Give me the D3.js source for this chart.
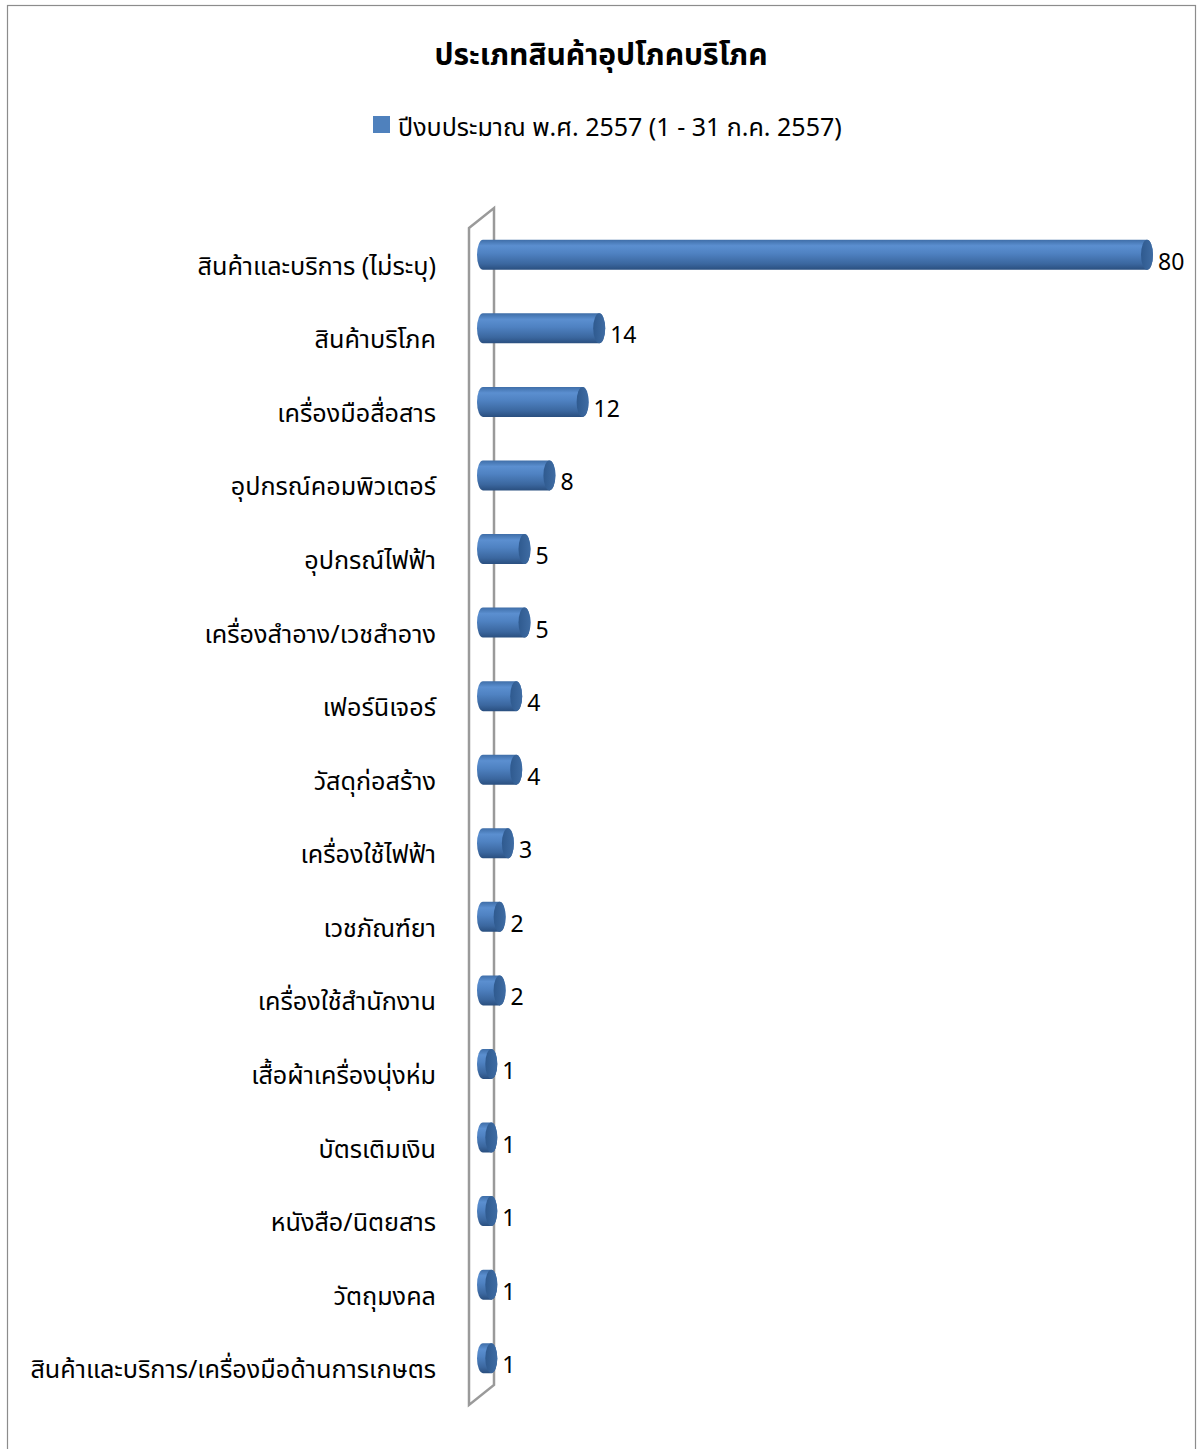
<!DOCTYPE html>
<html><head><meta charset="utf-8">
<script src="https://cdn.jsdelivr.net/npm/d3@7"></script>
<style>body{margin:0;background:#fff}</style>
</head><body>
<svg id="c" width="1198" height="1449"></svg>
<script>
const categories = ["สินค้าและบริการ (ไม่ระบุ)","สินค้าบริโภค","เครื่องมือสื่อสาร","อุปกรณ์คอมพิวเตอร์","อุปกรณ์ไฟฟ้า","เครื่องสำอาง/เวชสำอาง","เฟอร์นิเจอร์","วัสดุก่อสร้าง","เครื่องใช้ไฟฟ้า","เวชภัณฑ์ยา","เครื่องใช้สำนักงาน","เสื้อผ้าเครื่องนุ่งห่ม","บัตรเติมเงิน","หนังสือ/นิตยสาร","วัตถุมงคล","สินค้าและบริการ/เครื่องมือด้านการเกษตร"];
const values = [80,14,12,8,5,5,4,4,3,2,2,1,1,1,1,1];
const seriesName = "ปีงบประมาณ พ.ศ. 2557 (1 - 31 ก.ค. 2557)";
const title = "ประเภทสินค้าอุปโภคบริโภค";

const svg = d3.select("#c");
const font = "'Noto Sans', 'Noto Sans Thai', Tahoma, sans-serif";
// outer frame
svg.append("rect").attr("x",7.5).attr("y",5.5).attr("width",1188).attr("height",1460)
  .attr("fill","none").attr("stroke","#8c8c8c").attr("stroke-width",1.2);

svg.append("text").attr("x",601).attr("y",65).attr("text-anchor","middle")
  .attr("font-family",font).attr("font-weight","bold").attr("font-size",30).attr("fill","#000").text(title);
svg.append("rect").attr("x",373).attr("y",116).attr("width",17).attr("height",17).attr("fill","#4F81BD");
svg.append("text").attr("x",398).attr("y",136).attr("font-family",font).attr("font-size",25).attr("fill","#000").text(seriesName);

const x = d3.scaleLinear().domain([0,80]).range([483,1147]);
const y = d3.scaleBand().domain(categories).range([218,1395]).paddingInner(0.6).paddingOuter(0.3);

// back wall (3D panel)
const wall = svg.append("g");
wall.append("path").attr("d","M469,228 L494,208 L494,1385 L469,1405 Z")
  .attr("fill","none").attr("stroke","#9a9a9a").attr("stroke-width",2.5).attr("stroke-linejoin","miter");

const defs = svg.append("defs");
const g1 = defs.append("linearGradient").attr("id","cyl").attr("x1",0).attr("y1",0).attr("x2",0).attr("y2",1);
[[0,"#3f6ea8"],[0.2,"#5b8fd0"],[0.45,"#4f82c2"],[0.8,"#3b679f"],[1,"#2a4f7f"]].forEach(s=>g1.append("stop").attr("offset",s[0]).attr("stop-color",s[1]));
const g2 = defs.append("linearGradient").attr("id","cap").attr("x1",0).attr("y1",0).attr("x2",1).attr("y2",0);
[[0,"#2f5a8f"],[1,"#3f6ca3"]].forEach(s=>g2.append("stop").attr("offset",s[0]).attr("stop-color",s[1]));

const rx = 6;
const bars = svg.append("g").selectAll("g").data(categories).join("g");
bars.each(function(c,i){
  const g = d3.select(this);
  const cy = y(c) + y.bandwidth()/2;
  const h = 30, ry = h/2;
  const x0 = x(0), x1 = x(values[i]);
  g.append("path")
    .attr("d",`M${x0},${cy-ry} L${x1},${cy-ry} A${rx},${ry} 0 0 1 ${x1},${cy+ry} L${x0},${cy+ry} A${rx},${ry} 0 0 1 ${x0},${cy-ry} Z`)
    .attr("fill","url(#cyl)");
  g.append("ellipse").attr("cx",x1).attr("cy",cy).attr("rx",rx).attr("ry",ry).attr("fill","url(#cap)");
  g.append("text").attr("x",x1+rx+5).attr("y",cy+15).attr("font-family",font).attr("font-size",23).attr("fill","#000").text(values[i]);
  g.append("text").attr("x",436).attr("y",cy+20).attr("text-anchor","end").attr("font-family",font).attr("font-size",25.2).attr("fill","#000").text(c);
});
</script>
</body></html>
